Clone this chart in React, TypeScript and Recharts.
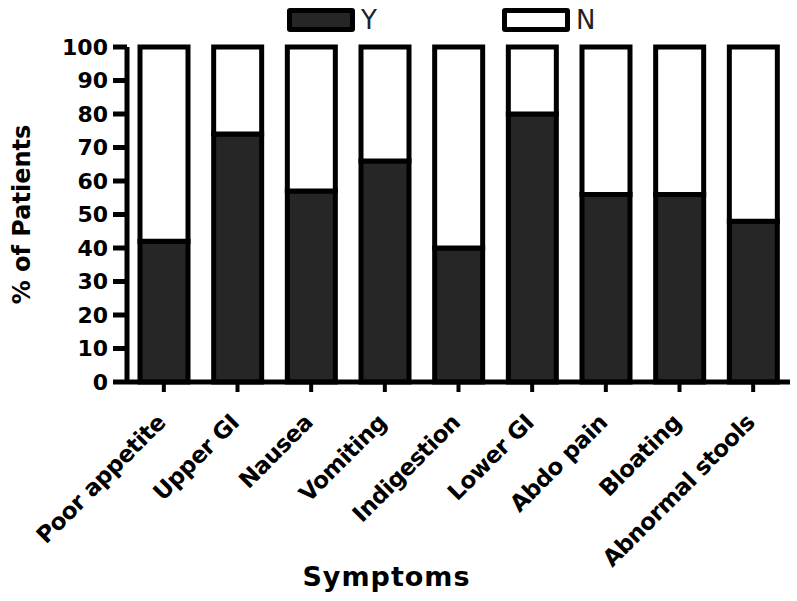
import * as React from 'react';
import { Bar, BarChart, Legend, XAxis, YAxis } from 'recharts';

const symptoms = [
  'Poor appetite',
  'Upper GI',
  'Nausea',
  'Vomiting',
  'Indigestion',
  'Lower GI',
  'Abdo pain',
  'Bloating',
  'Abnormal stools',
];
const yesValues = [42, 74, 57, 66, 40, 80, 56, 56, 48];
const noValues = yesValues.map((v) => 100 - v);
const yTicks = [0, 10, 20, 30, 40, 50, 60, 70, 80, 90, 100];

const data = symptoms.map((name, i) => ({ name, Y: yesValues[i], N: noValues[i] }));

const FONT = '"DejaVu Sans", Arial, sans-serif';
const DARK = '#262626';
const legendLeft: Record<string, number> = { Y: 287, N: 502 };

function SymptomTick({ x, y, payload }: any) {
  return (
    <g transform={`translate(${x + 3},${y + 30})`}>
      <text
        transform='rotate(-45)'
        textAnchor='end'
        fontFamily={FONT}
        fontWeight='bold'
        fontSize={23}
        letterSpacing={-0.5}
        fill='#000'
      >
        {payload.value}
      </text>
    </g>
  );
}

function LegendBox({ payload }: any) {
  return (
    <div style={{ position: 'relative', height: 0 }}>
      {(payload || []).map((item: any) => (
        <div
          key={item.value}
          style={{ position: 'absolute', left: legendLeft[item.value], top: 8, display: 'flex', alignItems: 'center' }}
        >
          <div
            style={{
              width: 58,
              height: 14,
              border: '5px solid #000',
              borderRadius: 3,
              background: item.value === 'Y' ? DARK : '#fff',
            }}
          />
          <span style={{ marginLeft: 6, fontFamily: FONT, fontSize: 26, color: '#222', lineHeight: '24px' }}>
            {item.value}
          </span>
        </div>
      ))}
    </div>
  );
}

export default function App() {
  return (
    <div style={{ position: 'absolute', left: 0, top: 0, width: 797, height: 601, background: '#fff' }}>
      <BarChart width={797} height={601} data={data} margin={{ top: 47, right: 7, bottom: 0, left: 0 }} barSize={48}>
        <Legend verticalAlign='top' content={<LegendBox />} wrapperStyle={{ top: 0, left: 0, width: 797 }} />
        <XAxis
          dataKey='name'
          height={219}
          interval={0}
          tick={<SymptomTick />}
          tickSize={10}
          tickMargin={2}
          axisLine={{ stroke: '#000', strokeWidth: 5 }}
          tickLine={{ stroke: '#000', strokeWidth: 4 }}
          label={{
            content: ({ viewBox }: any) => (
              <text
                x={viewBox.x + viewBox.width / 2 - 72}
                y={viewBox.y + viewBox.height - 15}
                textAnchor='middle'
                fontFamily={FONT}
                fontWeight='bold'
                fontSize={27}
                letterSpacing={1}
                fill='#000'
              >
                Symptoms
              </text>
            ),
          }}
        />
        <YAxis
          width={127}
          domain={[0, 100]}
          ticks={yTicks}
          interval={0}
          tickSize={14}
          tickMargin={5}
          tick={{ fill: '#000', fontFamily: FONT, fontWeight: 'bold', fontSize: 22 }}
          axisLine={{ stroke: '#000', strokeWidth: 5 }}
          tickLine={{ stroke: '#000', strokeWidth: 5 }}
          label={{
            content: ({ viewBox }: any) => {
              const cx = 30;
              const cy = viewBox.y + viewBox.height / 2;
              return (
                <text
                  x={cx}
                  y={cy}
                  transform={`rotate(-90, ${cx}, ${cy})`}
                  textAnchor='middle'
                  fontFamily={FONT}
                  fontWeight='bold'
                  fontSize={24}
                  fill='#000'
                >
                  % of Patients
                </text>
              );
            },
          }}
        />
        <Bar dataKey='Y' stackId='a' fill={DARK} stroke='#000' strokeWidth={5} isAnimationActive={false} />
        <Bar dataKey='N' stackId='a' fill='#fff' stroke='#000' strokeWidth={5} isAnimationActive={false} />
      </BarChart>
    </div>
  );
}
